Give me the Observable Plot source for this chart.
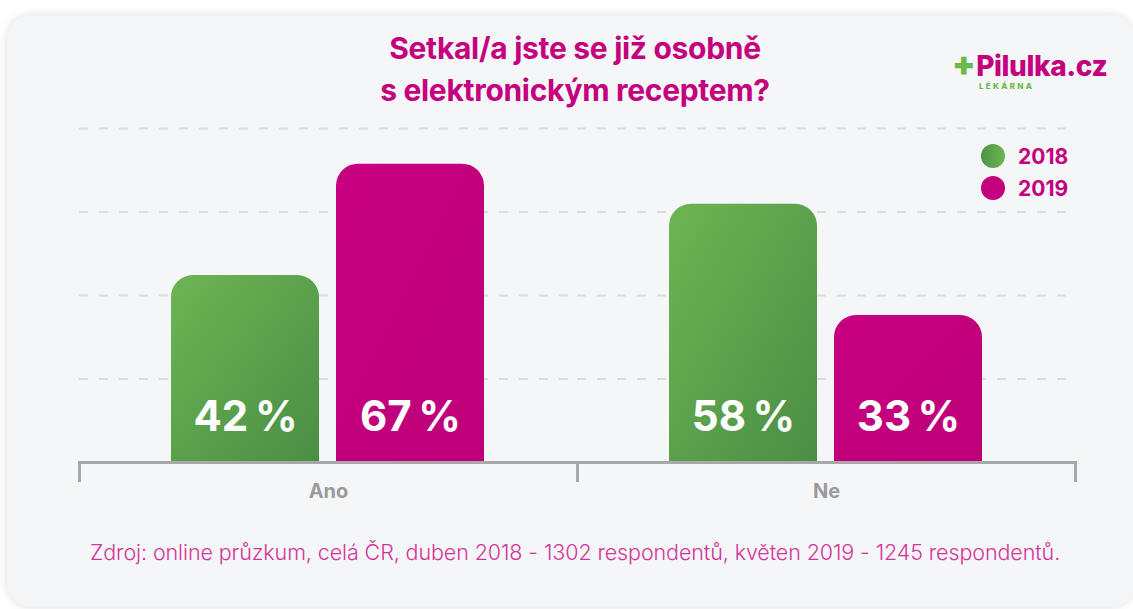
<!DOCTYPE html>
<html><head><meta charset="utf-8">
<script src="https://cdn.jsdelivr.net/npm/d3@7"></script>
<script src="https://cdn.jsdelivr.net/npm/@observablehq/plot@0.6"></script>
<style>
html,body{margin:0;padding:0;background:#fff;width:1133px;height:609px;overflow:hidden;font-family:Inter,"Noto Sans",sans-serif}
#card{position:absolute;left:7px;top:15px;width:1128px;height:592px;background:#f5f6f8;border-radius:24px;box-shadow:0 0 10px rgba(0,0,0,0.13)}
#title{position:absolute;left:0;width:1150px;top:27px;text-align:center;color:#c4007f;font-weight:700;font-size:30px;line-height:42px;letter-spacing:-0.3px}
#logo{position:absolute;left:952px;top:48px;color:#c4007f;font-weight:800;font-size:28px;line-height:32px;letter-spacing:-0.4px;white-space:nowrap}
#logo .plus{color:#6cb848;font-weight:900;font-size:34px;margin-right:1px}
#logo .sub{position:absolute;left:27px;top:33px;color:#6cb848;font-size:8px;font-weight:800;letter-spacing:2.3px;line-height:10px}
#legend{position:absolute;left:981px;top:140px;color:#c4007f;font-weight:700;font-size:21px}
#legend div{height:32px;display:flex;align-items:center}
#legend span.dot{display:inline-block;width:24px;height:24px;border-radius:50%;margin-right:13px}
#chart{position:absolute;left:0;top:100px}
#caption{position:absolute;left:90px;top:539px;color:#d4339a;font-weight:300;font-size:21.5px;white-space:nowrap;letter-spacing:-0.1px}
</style></head>
<body>
<svg width="0" height="0" style="position:absolute">
  <defs>
    <linearGradient id="gGreen" x1="0" y1="0" x2="1" y2="1">
      <stop offset="0" stop-color="#6db553"/>
      <stop offset="1" stop-color="#4a8e45"/>
    </linearGradient>
    <linearGradient id="gMag" x1="0" y1="0" x2="1" y2="1">
      <stop offset="0" stop-color="#c70080"/>
      <stop offset="1" stop-color="#bd0079"/>
    </linearGradient>
  </defs>
</svg>
<div id="card"></div>
<div id="title">Setkal/a jste se již osobně<br>s elektronickým receptem?</div>
<div id="logo"><span class="plus">+</span>Pilulka.cz<div class="sub">LÉKÁRNA</div></div>
<div id="legend"></div>
<div id="chart"></div>
<div id="caption"></div>
<script>
const answers = ["Ano", "Ne"];
const years = ["2018", "2019"];
const values2018 = [42, 58];
const values2019 = [67, 33];
const gridTicks = [18.75, 37.5, 56.25, 75];
const yearColors = ["url(#gGreen)", "url(#gMag)"];
const legendColors = ["linear-gradient(90deg,#4e9346,#6db553)", "#c4007f"];
const captionText = "Zdroj: online průzkum, celá ČR, duben 2018 - 1302 respondentů, květen 2019 - 1245 respondentů.";

const data = answers.flatMap((a, i) => [
  {answer: a, year: years[0], value: values2018[i]},
  {answer: a, year: years[1], value: values2019[i]}
]);

const chart = Plot.plot({
  width: 1133, height: 420,
  marginLeft: 78, marginRight: 58, marginTop: 28, marginBottom: 58,
  style: {background: "transparent", overflow: "visible", fontFamily: "Inter, sans-serif"},
  fx: {domain: answers, padding: 0, label: null},
  x: {domain: years, paddingInner: 0.1024, paddingOuter: 0.553, axis: null},
  y: {domain: [0, 75], axis: null},
  color: {domain: years, range: yearColors},
  marks: [
    Plot.ruleY(gridTicks, {stroke: "#dcdcdc", strokeWidth: 2, strokeDasharray: "9,11"}),
    Plot.barY(data, {fx: "answer", x: "year", y: "value", fill: "year", ry1: 22}),
    Plot.ruleY([0], {stroke: "#a8a8a8", strokeWidth: 3}),
    Plot.frame({anchor: "left", stroke: "#a8a8a8", strokeWidth: 3, insetTop: 334, insetBottom: -18}),
    Plot.frame({anchor: "right", stroke: "#a8a8a8", strokeWidth: 3, insetTop: 334, insetBottom: -18}),
    Plot.text(data, {fx: "answer", x: "year", y: 0, dy: -45, text: d => d.value + "\u2009%",
      fill: "white", fontSize: 42, fontWeight: 700}),
    Plot.axisFx({anchor: "bottom", tickSize: 0, tickPadding: 21, fontSize: 20, fontWeight: 700, color: "#9b9b9b", label: null})
  ]
});
document.getElementById("chart").appendChild(chart);

const legend = d3.select("#legend");
years.forEach((y, i) => {
  const row = legend.append("div");
  row.append("span").attr("class", "dot").style("background", legendColors[i]);
  row.append("span").text(y);
});
document.getElementById("caption").textContent = captionText;
</script>
</body></html>
